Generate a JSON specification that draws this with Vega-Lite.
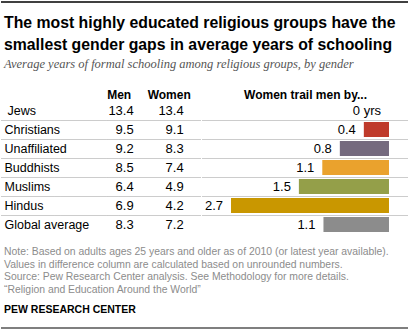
{
  "$schema": "https://vega.github.io/schema/vega-lite/v6.json",
  "padding": {"top": 1, "left": 0, "right": 0, "bottom": 0},
  "config": {
    "view": {"stroke": null},
    "font": "Liberation Sans",
    "axis": {"labelFont": "Liberation Sans", "titleFont": "Liberation Sans"}
  },
  "datasets": {
    "rows": [
      {"group": "Jews", "Men": 13.4, "Women": 13.4, "gap": 0, "label": "0 yrs"},
      {"group": "Christians", "Men": 9.5, "Women": 9.1, "gap": 0.43, "label": "0.4"},
      {"group": "Unaffiliated", "Men": 9.2, "Women": 8.3, "gap": 0.84, "label": "0.8"},
      {"group": "Buddhists", "Men": 8.5, "Women": 7.4, "gap": 1.14, "label": "1.1"},
      {"group": "Muslims", "Men": 6.4, "Women": 4.9, "gap": 1.54, "label": "1.5"},
      {"group": "Hindus", "Men": 6.9, "Women": 4.2, "gap": 2.7, "label": "2.7"},
      {"group": "Global average", "Men": 8.3, "Women": 7.2, "gap": 1.12, "label": "1.1"}
    ],
    "edge": [{"pos": 1}]
  },
  "spacing": 3,
  "vconcat": [
    {
      "width": 408,
      "height": 10,
      "data": {"name": "edge"},
      "mark": {"type": "rule", "color": "#000", "strokeWidth": 1.5},
      "encoding": {
        "y": {"field": "pos", "type": "quantitative", "scale": {"domain": [0, 1]}, "axis": null}
      }
    },
    {
      "spacing": 13,
      "vconcat": [
        {
          "title": {
            "text": ["The most highly educated religious groups have the", "smallest gender gaps in average years of schooling"],
            "subtitle": "Average years of formal schooling among religious groups, by gender",
            "anchor": "start",
            "frame": "group",
            "dx": 3,
            "font": "Liberation Sans",
            "fontSize": 15.8,
            "fontWeight": "bold",
            "color": "#000",
            "lineHeight": 22,
            "subtitleFont": "Liberation Serif",
            "subtitleFontStyle": "italic",
            "subtitleFontSize": 12.5,
            "subtitleColor": "#555",
            "subtitlePadding": 4,
            "offset": 17
          },
          "spacing": 0,
          "hconcat": [
            {
              "width": 200,
              "height": 133,
              "data": {"name": "rows"},
              "transform": [{"fold": ["Men", "Women"], "as": ["col", "val"]}],
              "mark": {"type": "text", "align": "right", "baseline": "middle", "fontSize": 13, "font": "Liberation Sans", "color": "#000"},
              "encoding": {
                "y": {
                  "field": "group",
                  "type": "nominal",
                  "scale": {"domain": ["Jews", "Christians", "Unaffiliated", "Buddhists", "Muslims", "Hindus", "Global average"], "paddingInner": 0, "paddingOuter": 0},
                  "axis": {
                    "orient": "left",
                    "title": null,
                    "labelAlign": "left",
                    "labelBaseline": "middle",
                    "labelPadding": {"condition": {"test": "datum.value == 'Jews'", "value": -6}, "value": -3},
                    "ticks": false,
                    "domain": false,
                    "grid": true,
                    "tickBand": "extent",
                    "gridDash": [1, 1],
                    "gridColor": "#999",
                    "gridOpacity": {"condition": {"test": "datum.value == 'Global average' || datum.extra", "value": 0}, "value": 1},
                    "labelFontSize": 12.5,
                    "labelColor": "#000",
                    "labelLimit": 0
                  }
                },
                "x": {
                  "field": "col",
                  "type": "nominal",
                  "bandPosition": 1,
                  "scale": {"type": "band", "domain": ["Men", "Women"], "paddingInner": 0, "paddingOuter": 1.0833, "align": 0.827},
                  "axis": {
                    "orient": "top",
                    "title": null,
                    "labelAngle": 0,
                    "labelFontWeight": "bold",
                    "labelFontSize": 12,
                    "labelColor": "#000",
                    "labelOffset": 10.5,
                    "labelPadding": 2.5,
                    "labelBaseline": "alphabetic",
                    "ticks": false,
                    "domain": false
                  }
                },
                "text": {"field": "val", "type": "quantitative", "format": ".1f"}
              }
            },
            {
              "width": 208,
              "height": 133,
              "data": {"name": "rows"},
              "encoding": {
                "y": {
                  "field": "group",
                  "type": "nominal",
                  "scale": {"domain": ["Jews", "Christians", "Unaffiliated", "Buddhists", "Muslims", "Hindus", "Global average"], "paddingInner": 0, "paddingOuter": 0},
                  "axis": {
                    "title": null,
                    "labels": false,
                    "ticks": false,
                    "domain": false,
                    "grid": true,
                    "tickBand": "extent",
                    "gridDash": [1, 1],
                    "gridColor": "#999",
                    "gridOpacity": {"condition": {"test": "datum.value == 'Global average' || datum.extra", "value": 0}, "value": 1}
                  }
                }
              },
              "layer": [
                {
                  "mark": {"type": "bar", "height": {"band": 0.79}},
                  "encoding": {
                    "x": {
                      "field": "gap",
                      "type": "quantitative",
                      "scale": {"domain": [-0.342, 3.213], "reverse": true, "zero": false, "nice": false},
                      "axis": {
                        "orient": "top",
                        "title": "Women trail men by...",
                        "labels": false,
                        "ticks": false,
                        "domain": false,
                        "grid": false,
                        "titleFontWeight": "bold",
                        "titleFontSize": 12,
                        "titleColor": "#000",
                        "titlePadding": 2.5,
                        "titleBaseline": "alphabetic"
                      }
                    },
                    "color": {
                      "field": "group",
                      "type": "nominal",
                      "scale": {
                        "domain": ["Jews", "Christians", "Unaffiliated", "Buddhists", "Muslims", "Hindus", "Global average"],
                        "range": ["#8c8c8c", "#bf3a2b", "#756a7e", "#eaa22d", "#949f49", "#c99700", "#8c8c8c"]
                      },
                      "legend": null
                    }
                  }
                },
                {
                  "mark": {"type": "text", "align": "right", "baseline": "middle", "dx": -8, "fontSize": 13, "color": "#000"},
                  "encoding": {
                    "x": {"field": "gap", "type": "quantitative"},
                    "text": {"field": "label"}
                  }
                },
                {
                  "mark": {"type": "rule", "color": "#555", "strokeWidth": 1},
                  "encoding": {"x": {"datum": 0}}
                }
              ]
            }
          ]
        },
        {
          "width": 408,
          "height": 10,
          "data": {"name": "edge"},
          "mark": {"type": "rule", "color": "#000", "strokeWidth": 1.2},
          "encoding": {
            "y": {"field": "pos", "type": "quantitative", "scale": {"domain": [0, 1]}, "axis": null}
          },
          "title": {
            "text": [
              "Note: Based on adults ages 25 years and older as of 2010 (or latest year available).",
              "Values in difference column are calculated based on unrounded numbers.",
              "Source: Pew Research Center analysis. See Methodology for more details.",
              "“Religion and Education Around the World”"
            ],
            "subtitle": "PEW RESEARCH CENTER",
            "anchor": "start",
            "frame": "group",
            "dx": 3,
            "font": "Liberation Sans",
            "fontSize": 10.4,
            "fontWeight": "normal",
            "color": "#8c8c8c",
            "lineHeight": 12.5,
            "subtitleFont": "Liberation Sans",
            "subtitleFontSize": 10.5,
            "subtitleFontWeight": "bold",
            "subtitleColor": "#000",
            "subtitlePadding": 10,
            "offset": 12
          }
        }
      ]
    }
  ]
}
